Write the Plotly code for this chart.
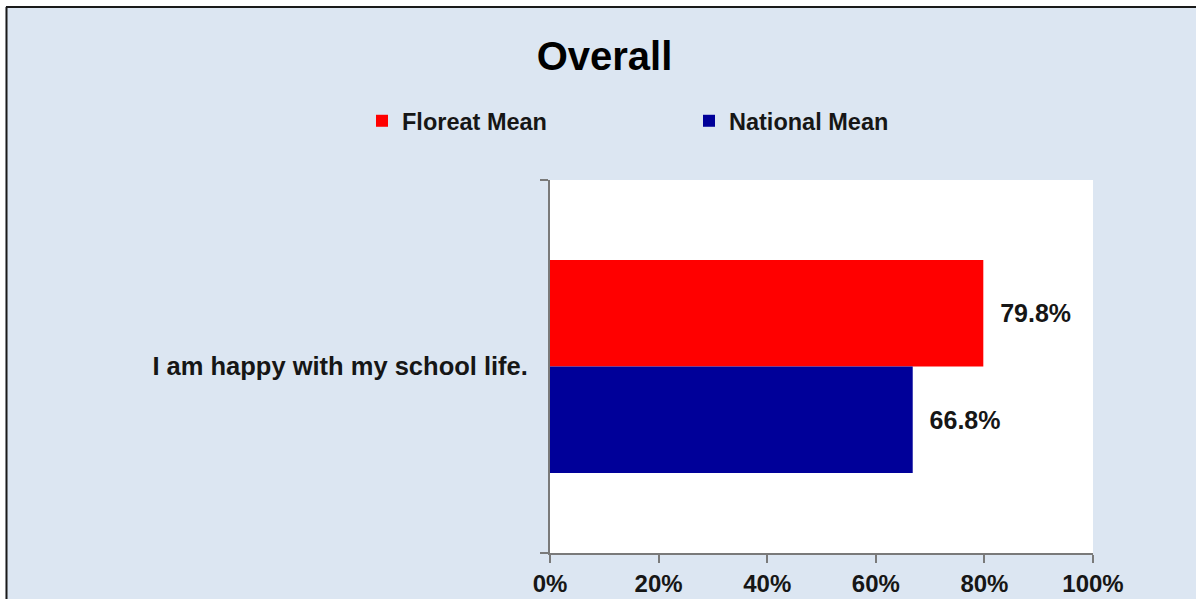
import plotly.graph_objects as go

categories = ["I am happy with my school life."]
series_names = ["Floreat Mean", "National Mean"]
floreat_values = [79.8]
national_values = [66.8]
series_colors = ["#ff0000", "#000099"]
x_ticks = [0, 20, 40, 60, 80, 100]

W, H = 1196, 599
L, R, T, B = 550, 1093, 180, 553
BG = "#dce6f2"
TXT = "#161616"
FONT = "Liberation Sans, Arial, sans-serif"


def px_x(px):
    return (px - L) / (R - L)


def px_y(py):
    return (B - py) / (B - T)


fig = go.Figure()
for name, vals, col in zip(series_names, [floreat_values, national_values], series_colors):
    fig.add_trace(go.Bar(
        name=name, y=categories, x=vals, orientation="h",
        marker=dict(color=col, line=dict(width=0)),
        text=["\u00a0\u00a0%.1f%%" % v for v in vals],
        textposition="outside", cliponaxis=False,
        textfont=dict(family=FONT, size=25, color=TXT, weight="bold"),
        hoverinfo="skip",
    ))

fig.update_layout(
    width=W, height=H,
    margin=dict(l=L, r=W - R, t=T, b=H - B, pad=0, autoexpand=False),
    paper_bgcolor=BG, plot_bgcolor="white",
    barmode="group", bargap=0.429, bargroupgap=0,
    font=dict(family=FONT, color=TXT),
    title=dict(text="<b>Overall</b>", x=604.5 / W, xref="container", xanchor="center",
               y=1 - 56 / H, yref="container", yanchor="middle",
               font=dict(family=FONT, size=40, color="#000000")),
    showlegend=True,
    legend=dict(orientation="h", x=px_x(362), y=px_y(121), xanchor="left", yanchor="middle",
                bgcolor="rgba(0,0,0,0)", entrywidth=282, entrywidthmode="pixels",
                font=dict(family=FONT, size=23.5, color=TXT, weight="bold")),
    xaxis=dict(range=[0, 100], tickvals=x_ticks, ticktext=["%d%%" % v for v in x_ticks],
               automargin=False,
               showgrid=False, zeroline=False, showline=True, linecolor="#7a7a7a", linewidth=2,
               ticks="outside", ticklen=8, tickwidth=2, tickcolor="#7a7a7a",
               ticklabelstandoff=0,
               tickfont=dict(family=FONT, size=24, color=TXT, weight="bold")),
    yaxis=dict(type="category", range=[0.5, -0.5], tickson="boundaries",
               automargin=False,
               showgrid=False, zeroline=False, showline=True, linecolor="#7a7a7a", linewidth=2,
               ticks="outside", ticklen=8, tickwidth=2, tickcolor="#7a7a7a",
               ticklabelstandoff=15,
               tickfont=dict(family=FONT, size=25.5, color=TXT, weight="bold")),
)

# outer frame: white strip outside a dark border (top and left)
fig.add_shape(type="rect", xref="paper", yref="paper", x0=px_x(-5), x1=px_x(W + 5),
              y0=px_y(-5), y1=px_y(6), fillcolor="white", line=dict(width=0), layer="above")
fig.add_shape(type="rect", xref="paper", yref="paper", x0=px_x(-5), x1=px_x(5.5),
              y0=px_y(-5), y1=px_y(H + 5), fillcolor="white", line=dict(width=0), layer="above")
fig.add_shape(type="line", xref="paper", yref="paper", x0=px_x(6), x1=px_x(W + 5),
              y0=px_y(7), y1=px_y(7), line=dict(color="#1a1a1a", width=2), layer="above")
fig.add_shape(type="line", xref="paper", yref="paper", x0=px_x(6.5), x1=px_x(6.5),
              y0=px_y(7), y1=px_y(H + 5), line=dict(color="#1a1a1a", width=2), layer="above")

fig.write_html("out.html", config={"displayModeBar": False},
               post_script="document.body.style.margin='0';document.body.style.overflow='hidden';")
